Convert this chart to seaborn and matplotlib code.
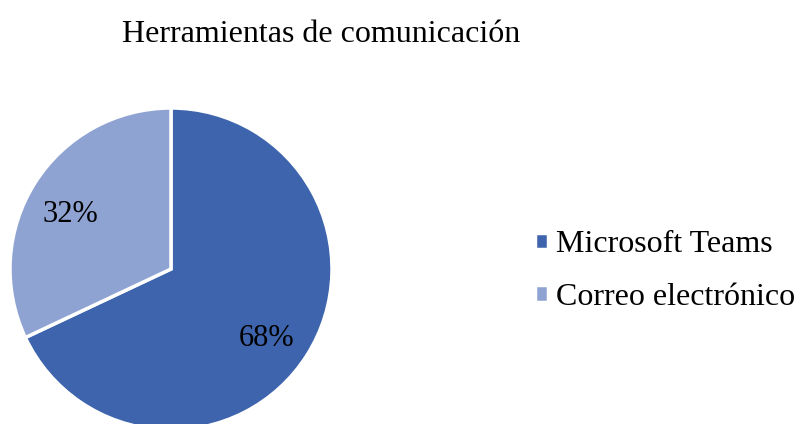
import matplotlib
matplotlib.use("Agg")
import matplotlib.pyplot as plt
import seaborn as sns

categorias = ['Microsoft Teams', 'Correo electrónico']
porcentajes = [68, 32]
colores = ['#3D64AC', '#8FA3D3']

sns.set_theme(style="white")
plt.rcParams['font.family'] = ['Liberation Serif', 'DejaVu Serif']
plt.rcParams['text.color'] = 'black'

fig = plt.figure(figsize=(7.95, 4.24), dpi=100)
# ejes del pie colocados a mano (centro ~ (171, 269) px, radio ~161 px)
r = 161
ax = fig.add_axes([(171 - r) / 795, (424 - 269 - r) / 424, 2 * r / 795, 2 * r / 424])
wedges, textos, autotextos = ax.pie(
    porcentajes, colors=colores, startangle=90, counterclock=False,
    autopct='%1.0f%%', pctdistance=0.72,
    wedgeprops=dict(edgecolor='white', linewidth=2.5),
    textprops=dict(fontsize=22, color='black'))
# bajar un poco las etiquetas de porcentaje
for t in autotextos:
    x, y = t.get_position()
    t.set_position((x - 0.015, y - 0.045))
ax.set_xlim(-1.0, 1.0)
ax.set_ylim(-1.0, 1.0)
ax.set_aspect('equal')

fig.text(321 / 795, 1 - 34 / 424, 'Herramientas de comunicación',
         ha='center', va='center', fontsize=23, color='black')

fig.legend(wedges, categorias, loc='center left',
           bbox_to_anchor=(506 / 795, 1 - 271 / 424), frameon=False,
           fontsize=23, handlelength=0.4, handleheight=0.4,
           handletextpad=0.25, labelspacing=0.75, labelcolor='black')

fig.savefig('out.png', dpi=100)
